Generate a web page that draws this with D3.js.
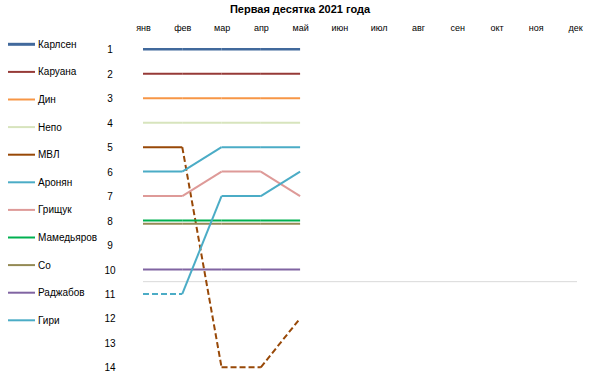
<!DOCTYPE html>
<html>
<head>
<meta charset="utf-8">
<script src="https://cdn.jsdelivr.net/npm/d3@7/dist/d3.min.js"></script>
<style>
  body { margin: 0; background: #fff; }
  svg { font-family: "Liberation Sans", Arial, sans-serif; }
</style>
</head>
<body>
<svg id="chart" width="601" height="375"></svg>
<script>
// Data
const months = ['янв', 'фев', 'мар', 'апр', 'май', 'июн', 'июл', 'авг', 'сен', 'окт', 'ноя', 'дек'];
const ranks = [1, 2, 3, 4, 5, 6, 7, 8, 9, 10, 11, 12, 13, 14];
const players = ['Карлсен', 'Каруана', 'Дин', 'Непо', 'МВЛ', 'Аронян', 'Грищук', 'Мамедьяров', 'Со', 'Раджабов', 'Гири'];
const colors = ['#41699c', '#963a37', '#f79646', '#d7e4bd', '#984807', '#4bacc6', '#de9a98', '#00b050', '#948a54', '#8064a2', '#4bacc6'];
// rank per month, Jan..May
const positions = [
    [1, 1, 1, 1, 1],
    [2, 2, 2, 2, 2],
    [3, 3, 3, 3, 3],
    [4, 4, 4, 4, 4],
    [5, 5, 14, 14, 12],
    [6, 6, 5, 5, 5],
    [7, 7, 6, 6, 7],
    [8, 8, 8, 8, 8],
    [8.13, 8.13, 8.13, 8.13, 8.13],
    [10, 10, 10, 10, 10],
    [11, 11, 7, 7, 6]
];
const topTen = 10.5; // segments ending below this are dashed

const svg = d3.select('#chart');

// Scales
const x = d3.scalePoint().domain(months).range([143, 575]);
const y = d3.scaleLinear().domain([1, 14]).range([49.3, 367.3]);

// Title
svg.append('text')
    .attr('x', 300).attr('y', 13)
    .attr('text-anchor', 'middle')
    .attr('font-size', 11).attr('font-weight', 'bold')
    .text('Первая десятка 2021 года');

// Month axis on top
const xAxis = svg.append('g').attr('transform', 'translate(0,31)')
    .call(d3.axisTop(x).tickSize(0).tickPadding(0));
xAxis.select('.domain').remove();
xAxis.selectAll('text').attr('font-size', 9).attr('font-family', null).attr('fill', '#000');

// Rank axis
const yAxis = svg.append('g').attr('transform', 'translate(110,0)')
    .call(d3.axisLeft(y).tickValues(ranks).tickFormat(d3.format('d')).tickSize(0).tickPadding(0));
yAxis.select('.domain').remove();
yAxis.selectAll('text').attr('text-anchor', 'middle').attr('font-size', 10)
    .attr('font-family', null).attr('fill', '#000').attr('dy', '0.36em');

// Top-ten separator
svg.append('line')
    .attr('x1', x('янв')).attr('x2', x('дек') + 2)
    .attr('y1', y(topTen)).attr('y2', y(topTen))
    .attr('stroke', '#d9d9d9').attr('stroke-width', 1);

// Series
players.forEach((name, i) => {
    const vals = positions[i];
    const g = svg.append('g');
    for (let k = 1; k < vals.length; k++) {
        const dashed = vals[k] > topTen;
        g.append('line')
            .attr('x1', x(months[k - 1])).attr('y1', y(vals[k - 1]))
            .attr('x2', x(months[k])).attr('y2', y(vals[k]))
            .attr('stroke', colors[i])
            .attr('stroke-width', i === 0 ? 2.5 : 2)
            .attr('stroke-dasharray', dashed ? '6,3' : null)
            .attr('stroke-linecap', 'butt');
    }
});

// Legend
const legend = svg.append('g');
players.forEach((name, i) => {
    const ly = 44.3 + i * 27.6;
    legend.append('line')
        .attr('x1', 8).attr('x2', 35).attr('y1', ly).attr('y2', ly)
        .attr('stroke', colors[i]).attr('stroke-width', i === 0 ? 3 : 2);
    legend.append('text')
        .attr('x', 38).attr('y', ly).attr('dy', '0.35em')
        .attr('font-size', 10)
        .text(name);
});
</script>
</body>
</html>
